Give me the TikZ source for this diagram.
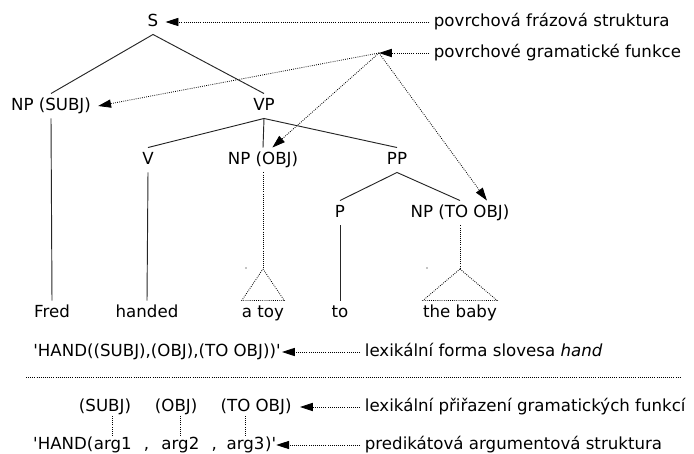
\documentclass[tikz,border=0pt]{standalone}
\usepackage{fontspec}
\setmainfont{DejaVu Sans}
\usetikzlibrary{positioning}
\usetikzlibrary{arrows.meta}
\colorlet{branchc}{black!85}
\tikzset{
  cat/.style={inner xsep=6pt, inner ysep=6.8pt, text height=0.73em, text depth=0pt},
  leaf/.style={cat, inner xsep=0pt},
  descr/.style={anchor=west, inner xsep=4pt, inner ysep=0pt, text height=0.73em, text depth=0pt},
  lex/.style={inner xsep=1pt, inner ysep=4pt, text height=0.73em, text depth=0pt},
  argpart/.style={lex, inner xsep=0pt},
  branch/.style={draw=branchc, line width=0.8pt},
  dots/.style={line width=0.7pt, dash pattern=on 0.7pt off 1.1pt},
  ptr/.style={dots, -{Triangle[length=11pt,width=7pt]}}
}

\begin{document}
\begin{tikzpicture}[x=0.03cm, y=-0.03cm, every node/.style={font=\fontsize{14.2pt}{17pt}\selectfont}]
\useasboundingbox (0,0) rectangle (694,454);

\node[cat] (S) at (153,22) {S};
\node[cat] (NPs) at (51,106) {NP (SUBJ)};
\node[cat] (VP) at (264,106) {VP};
\node[cat] (V) at (148,160) {V};
\node[cat] (NPo) at (263,160) {NP (OBJ)};
\node[cat] (PP) at (397,160) {PP};
\node[cat] (P) at (340,213) {P};
\node[cat] (NPt) at (460,213) {NP (TO OBJ)};
\node[leaf] (fred) at (52,313) {Fred};
\node[leaf] (handed) at (147,313) {handed};
\node[leaf] (toy) at (263,313) {a toy};
\node[leaf] (to) at (340,313) {to};
\node[leaf] (baby) at (460,313) {the baby};
\coordinate (toyTop) at (263,269);
\coordinate (babyTop) at (460,269);

\draw[branch] (NPs.north) -- (S.south) -- (VP.north);
\draw[branch] (V.north) -- (VP.south) -- (PP.north);
\draw[branch] (VP.south) -- (NPo.north);
\draw[branch] (P.north) -- (PP.south) -- (NPt.north);
\draw[branch] (NPs.south) -- (fred.north);
\draw[branch] (V.south) -- (handed.north);
\draw[branch] (P.south) -- (to.north);
\draw[dots] (NPo.south) -- (toyTop);
\draw[dots] (toyTop) -- (toy.north east) -- (toy.north west) -- cycle;
\draw[dots] (NPt.south) -- (babyTop);
\draw[dots] (babyTop) -- (baby.north east) -- (baby.north west) -- cycle;
\fill (246,268) circle (0.5pt);
\fill (427,268) circle (0.5pt);

\coordinate (hub) at (379,53);
\node[descr] (psLabel) at (429,22) {povrchová frázová struktura};
\node[descr] (gfLabel) at (429,53) {povrchové gramatické funkce};
\draw[ptr] (psLabel.west) -- (S.east);
\draw[ptr] (gfLabel.west) -- (hub);
\draw[ptr] (hub) -- (NPs.east);
\draw[ptr] (hub) -- ([xshift=8pt]NPo.north);
\draw[ptr] (hub) -- ([xshift=23pt]NPt.north);

\node[lex, anchor=west] (lexform) at (32,352) {\textquotesingle HAND((SUBJ),(OBJ),(TO OBJ))\textquotesingle};
\node[descr] (lfLabel) at (360,352) {lexikální forma slovesa \textit{hand}};
\draw[ptr] (lfLabel.west) -- (lexform.east);

\coordinate (sepL) at (26,377);
\coordinate (sepR) at (680,377);
\draw[dots] (sepL) -- (sepR);

\node[lex] (fS) at (105,407) {(SUBJ)};
\node[lex, right=18pt of fS] (fO) {(OBJ)};
\node[lex, right=17.5pt of fO] (fT) {(TO OBJ)};
\node[descr] (afLabel) at (360,407) {lexikální přiřazení gramatických funkcí};
\draw[ptr, shorten >=6pt] (afLabel.west) -- (fT.east);

\node[argpart, anchor=west] (argHead) at (33,445) {\textquotesingle HAND(};
\node[argpart, right=0pt of argHead] (a1) {arg1};
\node[argpart, right=10pt of a1] (c1) {,};
\node[argpart, right=10pt of c1] (a2) {arg2};
\node[argpart, right=10pt of a2] (c2) {,};
\node[argpart, right=8pt of c2] (a3) {arg3};
\node[argpart, right=0pt of a3] (argTail) {)\textquotesingle};
\node[descr] (paLabel) at (360,445) {predikátová argumentová struktura};
\draw[ptr] (paLabel.west) -- (argTail.east);
\draw[dots] (a1.north) -- (a1.north |- fS.south);
\draw[dots] (a2.north) -- (a2.north |- fO.south);
\draw[dots] (a3.north) -- (a3.north |- fT.south);
\end{tikzpicture}
\end{document}
